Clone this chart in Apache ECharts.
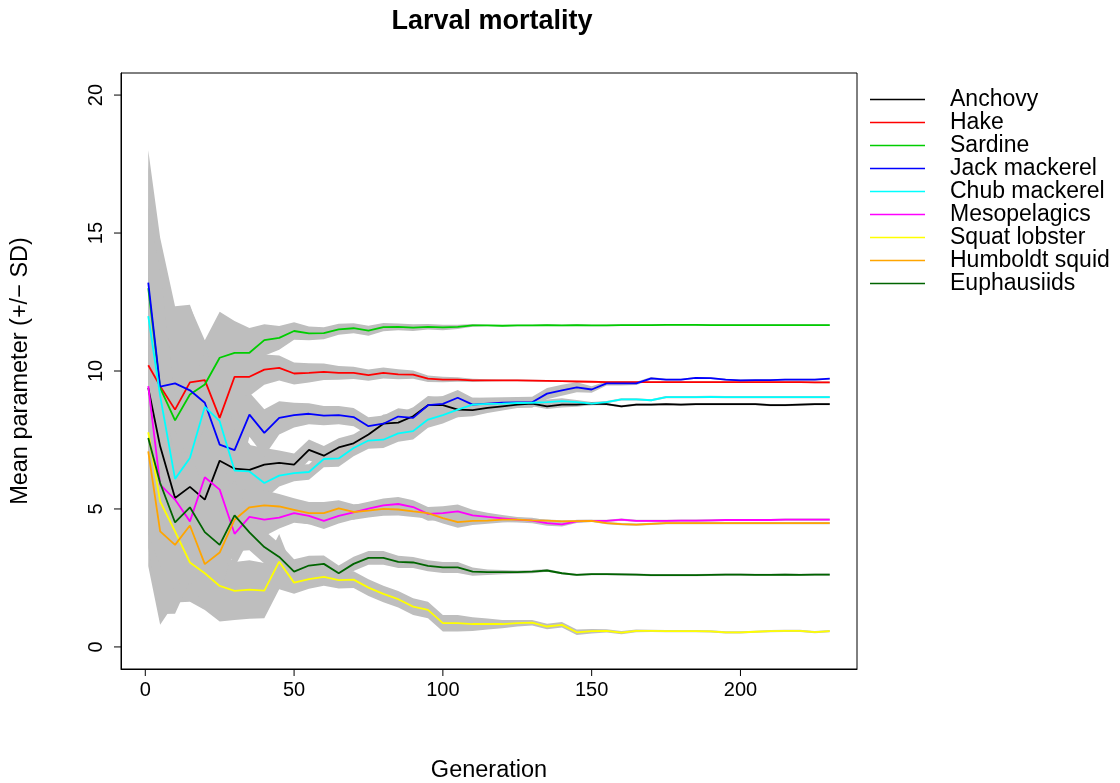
<!DOCTYPE html>
<html>
<head>
<meta charset="utf-8">
<script src="https://cdn.jsdelivr.net/npm/echarts@6/dist/echarts.min.js"></script>
<style>html,body{margin:0;padding:0;background:#fff}#c{width:1120px;height:783px}</style>
</head>
<body>
<div id="c"></div>
<script>
const gens = [1,5,10,15,20,25,30,35,40,45,50,55,60,65,70,75,80,85,90,95,100,105,110,115,120,125,130,135,140,145,150,155,160,165,170,175,180,185,190,195,200,205,210,215,220,225,230];
const xTicks = [0,50,100,150,200];
const yTicks = [0,5,10,15,20];

const anchovy = [9.39,7.27,5.40,5.80,5.34,6.75,6.46,6.42,6.61,6.67,6.61,7.14,6.93,7.23,7.38,7.70,8.09,8.13,8.36,8.76,8.76,8.60,8.58,8.66,8.72,8.78,8.82,8.72,8.78,8.78,8.82,8.80,8.72,8.78,8.78,8.80,8.78,8.80,8.80,8.80,8.80,8.80,8.76,8.76,8.78,8.80,8.80];
const hake = [10.21,9.45,8.60,9.59,9.67,8.30,9.79,9.79,10.05,10.11,9.91,9.93,9.97,9.93,9.93,9.85,9.93,9.88,9.87,9.72,9.69,9.69,9.66,9.66,9.66,9.66,9.65,9.64,9.63,9.62,9.61,9.60,9.60,9.60,9.60,9.60,9.60,9.60,9.60,9.60,9.60,9.60,9.60,9.60,9.60,9.59,9.59];
const sardine = [13.0,9.39,8.21,9.15,9.51,10.48,10.66,10.66,11.12,11.20,11.45,11.36,11.37,11.51,11.55,11.46,11.59,11.60,11.57,11.60,11.58,11.60,11.65,11.65,11.64,11.65,11.65,11.66,11.65,11.66,11.65,11.65,11.66,11.66,11.66,11.67,11.67,11.67,11.66,11.66,11.66,11.66,11.66,11.66,11.66,11.66,11.66];
const jackMackerel = [13.2,9.43,9.55,9.30,8.85,7.33,7.13,8.42,7.76,8.30,8.40,8.45,8.38,8.40,8.33,8.00,8.09,8.35,8.30,8.76,8.81,9.03,8.78,8.82,8.85,8.86,8.87,9.18,9.30,9.41,9.33,9.55,9.55,9.55,9.73,9.69,9.69,9.75,9.74,9.69,9.66,9.67,9.67,9.69,9.69,9.69,9.72];
const chubMackerel = [11.99,9.1,6.09,6.85,8.70,8.18,6.39,6.36,5.94,6.21,6.30,6.34,6.81,6.83,7.21,7.48,7.51,7.74,7.82,8.24,8.40,8.60,8.78,8.81,8.82,8.84,8.85,8.87,8.91,8.87,8.82,8.87,8.97,8.97,8.94,9.05,9.05,9.05,9.06,9.05,9.05,9.05,9.05,9.05,9.05,9.05,9.05];
const mesopelagics = [9.45,5.88,5.34,4.55,6.15,5.70,4.10,4.71,4.61,4.69,4.85,4.75,4.57,4.75,4.88,5.01,5.13,5.18,5.07,4.82,4.85,4.91,4.77,4.71,4.66,4.61,4.58,4.49,4.44,4.55,4.57,4.57,4.61,4.57,4.57,4.57,4.58,4.58,4.59,4.60,4.60,4.60,4.60,4.61,4.61,4.61,4.61];
const squatLobster = [7.78,5.27,4.19,3.06,2.67,2.21,2.03,2.08,2.04,3.09,2.33,2.46,2.54,2.42,2.44,2.15,1.92,1.73,1.46,1.34,0.86,0.86,0.83,0.83,0.83,0.86,0.88,0.74,0.80,0.53,0.57,0.58,0.52,0.58,0.58,0.57,0.57,0.57,0.56,0.53,0.53,0.55,0.57,0.58,0.58,0.54,0.57];
const humboldtSquid = [7.09,4.19,3.70,4.40,3.00,3.42,4.61,5.06,5.13,5.09,4.97,4.85,4.85,5.02,4.89,4.94,5.00,4.98,4.91,4.85,4.67,4.52,4.57,4.58,4.61,4.61,4.59,4.58,4.55,4.56,4.57,4.49,4.45,4.43,4.46,4.49,4.49,4.49,4.49,4.49,4.49,4.49,4.49,4.49,4.49,4.49,4.49];
const euphausiids = [7.57,5.94,4.51,5.06,4.16,3.70,4.77,4.15,3.62,3.26,2.73,2.95,3.01,2.67,3.01,3.23,3.23,3.08,3.06,2.94,2.88,2.88,2.73,2.71,2.71,2.71,2.73,2.77,2.67,2.61,2.64,2.64,2.63,2.62,2.60,2.60,2.60,2.60,2.61,2.62,2.62,2.61,2.61,2.62,2.61,2.62,2.62];

const anchovySD = [4.0,3.5,2.5,2.2,1.8,1.5,1.2,0.9,0.6,0.45,0.4,0.38,0.35,0.33,0.33,0.33,0.33,0.33,0.33,0.33,0.3,0.28,0.22,0.18,0.15,0.12,0.1,0.1,0.1,0.08,0.06,0.04,0.04,0.04,0.04,0.04,0.04,0.04,0.04,0.04,0.04,0.04,0.04,0.04,0.04,0.04,0.04];
const hakeSD = [4.0,3.5,2.5,2.0,1.4,2.0,1.2,0.7,0.55,0.45,0.4,0.35,0.3,0.25,0.22,0.2,0.2,0.18,0.15,0.12,0.1,0.08,0.06,0.04,0.03,0.03,0.03,0.03,0.03,0.03,0.03,0.03,0.03,0.03,0.03,0.03,0.03,0.03,0.03,0.03,0.03,0.03,0.03,0.03,0.03,0.03,0.03];
const sardineSD = [4.5,4.0,3.5,3.2,1.6,1.67,1.15,0.9,0.57,0.43,0.32,0.25,0.22,0.2,0.18,0.18,0.15,0.12,0.12,0.1,0.1,0.08,0.05,0.03,0.03,0.03,0.03,0.03,0.03,0.03,0.03,0.03,0.03,0.03,0.03,0.03,0.03,0.03,0.03,0.03,0.03,0.03,0.03,0.03,0.03,0.03,0.03];
const jackMackerelSD = [4.8,5.4,2.8,3.1,2.0,2.2,1.6,0.8,0.85,0.6,0.45,0.38,0.35,0.33,0.33,0.32,0.3,0.3,0.28,0.28,0.28,0.28,0.25,0.22,0.2,0.2,0.2,0.2,0.2,0.18,0.12,0.08,0.08,0.06,0.05,0.03,0.03,0.03,0.03,0.03,0.03,0.03,0.03,0.03,0.03,0.03,0.03];
const chubMackerelSD = [4.0,4.5,3.0,2.5,2.0,1.8,1.5,1.0,0.6,0.4,0.3,0.28,0.3,0.3,0.3,0.3,0.3,0.3,0.3,0.3,0.3,0.28,0.25,0.2,0.15,0.12,0.1,0.1,0.1,0.08,0.06,0.04,0.04,0.04,0.04,0.04,0.04,0.04,0.04,0.04,0.04,0.04,0.04,0.04,0.04,0.04,0.04];
const mesopelagicsSD = [3.5,3.0,2.5,2.2,1.8,1.5,1.2,0.8,0.6,0.4,0.35,0.3,0.3,0.28,0.26,0.25,0.25,0.25,0.25,0.25,0.25,0.25,0.2,0.15,0.12,0.1,0.1,0.1,0.08,0.06,0.04,0.04,0.04,0.04,0.04,0.04,0.04,0.04,0.04,0.04,0.04,0.04,0.04,0.04,0.04,0.04,0.04];
const squatLobsterSD = [4.86,4.47,2.58,1.42,1.33,1.29,1.05,1.06,1.0,1.0,0.4,0.35,0.32,0.3,0.3,0.3,0.3,0.3,0.3,0.3,0.3,0.3,0.25,0.2,0.15,0.12,0.1,0.1,0.1,0.1,0.08,0.06,0.06,0.05,0.04,0.04,0.04,0.04,0.04,0.04,0.04,0.04,0.04,0.04,0.04,0.04,0.04];
const humboldtSquidSD = [3.5,3.0,2.5,2.0,1.6,1.5,1.0,0.7,0.55,0.45,0.42,0.4,0.4,0.3,0.28,0.25,0.25,0.22,0.2,0.2,0.2,0.2,0.15,0.12,0.1,0.08,0.06,0.04,0.04,0.04,0.04,0.04,0.04,0.04,0.04,0.04,0.04,0.04,0.04,0.04,0.04,0.04,0.04,0.04,0.04,0.04,0.04];
const euphausiidsSD = [3.5,3.0,2.5,2.0,1.5,1.2,1.3,0.65,0.6,0.5,0.45,0.35,0.3,0.28,0.26,0.25,0.25,0.22,0.2,0.2,0.2,0.2,0.15,0.1,0.08,0.06,0.06,0.05,0.04,0.04,0.04,0.04,0.04,0.04,0.04,0.04,0.04,0.04,0.04,0.04,0.04,0.04,0.04,0.04,0.04,0.04,0.04];

const names = ['Anchovy','Hake','Sardine','Jack mackerel','Chub mackerel','Mesopelagics','Squat lobster','Humboldt squid','Euphausiids'];
const colors = ['#000000','#FF0000','#00CD00','#0000FF','#00FFFF','#FF00FF','#FFFF00','#FFA500','#006400'];
const means = [anchovy,hake,sardine,jackMackerel,chubMackerel,mesopelagics,squatLobster,humboldtSquid,euphausiids];
const sds = [anchovySD,hakeSD,sardineSD,jackMackerelSD,chubMackerelSD,mesopelagicsSD,squatLobsterSD,humboldtSquidSD,euphausiidsSD];

const FONT = 'Liberation Sans, Arial, Helvetica, sans-serif';
const TICK_LEN = 7;
const series = [];
means.forEach((m, k) => {
  const sd = sds[k];
  series.push({
    type: 'custom',
    name: names[k] + ' SD',
    silent: true,
    z: 1,
    data: [[gens[0], m[0]]],
    renderItem: function (params, api) {
      const pts = [];
      for (let i = 0; i < gens.length; i++) pts.push(api.coord([gens[i], m[i] + sd[i]]));
      for (let i = gens.length - 1; i >= 0; i--) pts.push(api.coord([gens[i], m[i] - sd[i]]));
      return { type: 'polygon', shape: { points: pts }, style: { fill: '#BEBEBE', stroke: null } };
    }
  });
});
means.forEach((m, k) => {
  series.push({
    type: 'line',
    name: names[k],
    color: colors[k],
    z: 3,
    showSymbol: false,
    symbol: 'none',
    lineStyle: { width: 1.8, color: colors[k] },
    itemStyle: { color: colors[k] },
    data: gens.map((g, i) => [g, m[i]])
  });
});
// axis tick marks (outside the box, R style), placed via the axis scales
series.push({
  type: 'custom', name: 'xticks', silent: true, clip: false, z: 5,
  data: xTicks.map(t => [t, 0]),
  renderItem: function (params, api) {
    const cs = params.coordSys;
    const x = api.coord([api.value(0), 0])[0];
    const yb = cs.y + cs.height;
    return { type: 'line', shape: { x1: x, y1: yb, x2: x, y2: yb + TICK_LEN }, style: { stroke: '#000', lineWidth: 1 } };
  }
});
series.push({
  type: 'custom', name: 'yticks', silent: true, clip: false, z: 5,
  data: yTicks.map(t => [0, t]),
  renderItem: function (params, api) {
    const cs = params.coordSys;
    const y = api.coord([0, api.value(1)])[1];
    const xl = cs.x;
    return { type: 'line', shape: { x1: xl, y1: y, x2: xl - TICK_LEN, y2: y }, style: { stroke: '#000', lineWidth: 1 } };
  }
});

const chart = echarts.init(document.getElementById('c'), null, { renderer: 'canvas' });
chart.setOption({
  animation: false,
  backgroundColor: '#ffffff',
  textStyle: { fontFamily: FONT },
  title: {
    text: 'Larval mortality',
    left: 487, top: 3, textAlign: 'center',
    textStyle: { fontFamily: FONT, fontSize: 27, fontWeight: 'bold', color: '#000' }
  },
  legend: {
    orient: 'vertical', left: 870, top: 88, padding: 0,
    selectedMode: false,
    data: names,
    icon: 'rect', itemWidth: 55, itemHeight: 1.5, itemGap: 0,
    textStyle: { fontFamily: FONT, fontSize: 23, lineHeight: 23, color: '#000', padding: [0, 0, 0, 20] }
  },
  grid: { left: 121, right: 263, top: 73, bottom: 114, outerBoundsMode: 'none', containLabel: false, show: true, borderColor: '#000', borderWidth: 1, backgroundColor: 'transparent' },
  xAxis: {
    type: 'value', min: -8.16, max: 239.16,
    name: 'Generation', nameLocation: 'middle', nameGap: 90,
    nameTextStyle: { fontFamily: FONT, fontSize: 23.5, color: '#000' },
    axisLine: { show: true, onZero: false, lineStyle: { color: '#000', width: 1 } },
    splitLine: { show: false },
    axisTick: { show: false },
    axisLabel: { show: true, customValues: xTicks, margin: 11, fontSize: 20, color: '#000', fontFamily: FONT }
  },
  yAxis: {
    type: 'value', min: -0.8, max: 20.8,
    name: 'Mean parameter (+/\u2212 SD)', nameLocation: 'middle', nameGap: 88, nameRotate: 90,
    nameTextStyle: { fontFamily: FONT, fontSize: 23.5, color: '#000' },
    axisLine: { show: true, onZero: false, lineStyle: { color: '#000', width: 1 } },
    splitLine: { show: false },
    axisTick: { show: false },
    axisLabel: { show: true, customValues: yTicks, rotate: 90, margin: 15, fontSize: 20, color: '#000', fontFamily: FONT }
  },
  series: series
});
</script>
</body>
</html>
